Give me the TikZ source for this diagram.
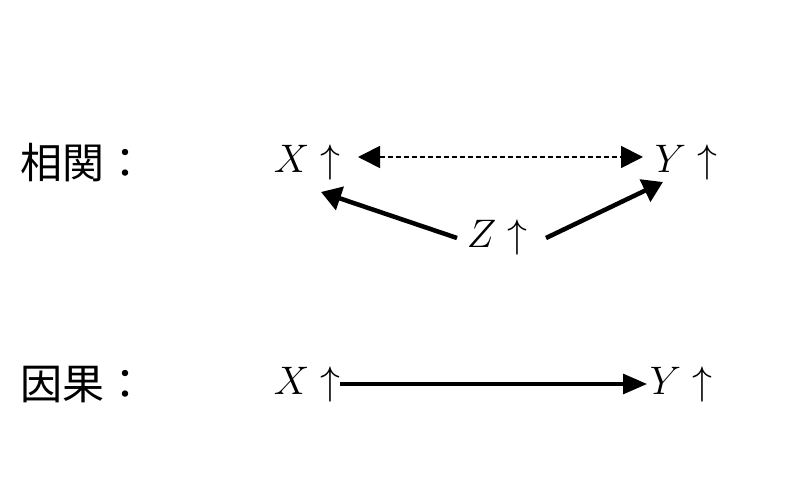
\documentclass[tikz,border=0pt]{standalone}
\usepackage{fontspec}
\newfontfamily\cjk{Noto Sans CJK JP}
\usetikzlibrary{arrows.meta}
\tikzset{
  lbl/.style={inner sep=0pt, font=\Huge, scale=1.6},
  cj/.style={inner sep=0pt, font=\cjk\fontsize{42}{48}\selectfont},
  dasharrow/.style={line width=1.7pt, dash pattern=on 5pt off 3pt, {Triangle[length=22pt,width=22pt]}-{Triangle[length=22pt,width=22pt]}},
  thickarrow/.style={line width=4.5pt, -{Triangle[length=20pt,width=24pt]}},
  midarrow/.style={line width=3.2pt, -{Triangle[length=24pt,width=20pt]}}
}
\begin{document}
\begin{tikzpicture}[x=1pt,y=1pt]
\useasboundingbox (0,0) rectangle (800,492);
\node[cj, anchor=west] (c1) at (20,329) {相関：};
\node[cj, anchor=west] (c2) at (20,107) {因果：};
\node[lbl] (xt) at (307,329) {$X\uparrow$};
\node[lbl] (yt) at (686,329) {$Y\uparrow$};
\node[lbl] (zt) at (497,254) {$Z\uparrow$};
\node[lbl] (xb) at (307,107) {$X\uparrow$};
\node[lbl] (yb) at (681,107) {$Y\uparrow$};
\draw[dasharrow] ([shift={(51,6)}]xt.center) -- ([shift={(-43,6)}]yt.center);
\draw[thickarrow] ([shift={(-40,0)}]zt.center) -- ([shift={(14,-29)}]xt.center);
\draw[thickarrow] ([shift={(49,0)}]zt.center) -- ([shift={(-23,-19)}]yt.center);
\draw[midarrow] ([shift={(33,1)}]xb.center) -- ([shift={(-34,1)}]yb.center);
\end{tikzpicture}
\end{document}
